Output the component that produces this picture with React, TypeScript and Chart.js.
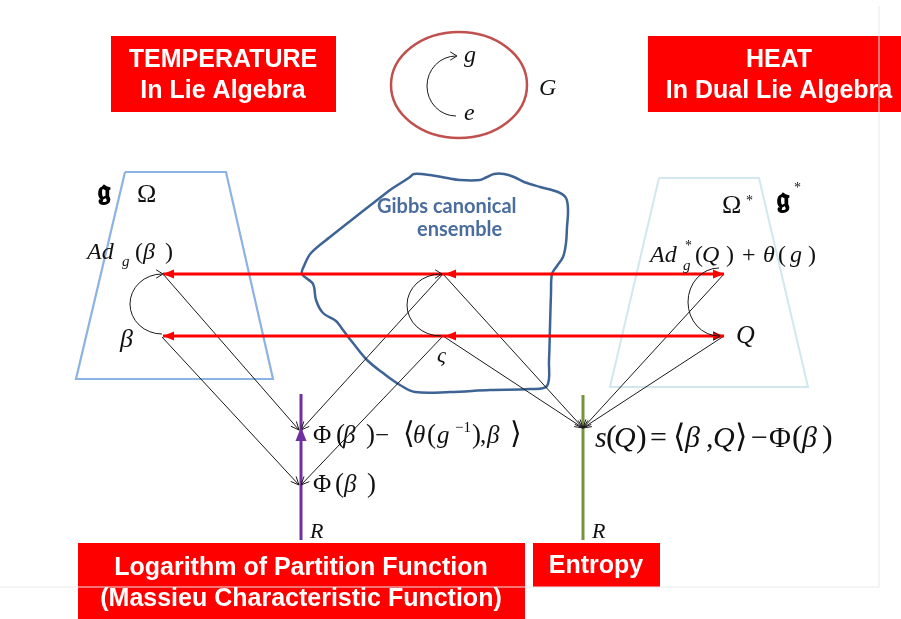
import { useEffect, useRef } from "react";
import { Chart, registerables } from "chart.js";

Chart.register(...registerables);

type Pt = [number, number];

// ---- diagram geometry (data units == pixels of the 901x619 page) ----
const lieAlgebraFrame: Pt[] = [[125, 172], [226, 172], [273, 379], [76, 379], [125, 172]];
const dualAlgebraFrame: Pt[] = [[659, 178], [759, 178], [808, 387], [610, 387], [659, 178]];
const gibbsEnsembleOutline: Pt[] = [
  [390, 190], [410, 177], [414, 174], [430, 175], [447, 178], [460, 180], [480, 180],
  [487, 177], [494, 174], [504, 174], [514, 177], [524, 182], [540, 187], [558, 192],
  [566, 198], [568, 210], [567, 227], [566, 243], [563, 257], [557, 266], [552, 274],
  [551, 293], [550, 327], [549, 360], [547, 386], [530, 389], [490, 390], [450, 392],
  [415, 392], [400, 385], [383, 373], [367, 360], [353, 343], [343, 330], [336, 321],
  [323, 313], [316, 300], [313, 284], [302, 274], [304, 266], [311, 253], [330, 237],
  [363, 211], [390, 190],
];
const pageBorder: Pt[] = [[0, 587], [879, 587], [879, 6]];
const redArrowRows: number[] = [274, 336];
const redArrowSpan: Pt = [163, 724];
const redHeadsLeft: number[] = [163, 445];
const redHeadsRight: number[] = [724];
const mapArrows: [Pt, Pt][] = [
  [[163, 274], [299, 430]],
  [[162, 337], [299, 485]],
  [[443, 274], [301, 430]],
  [[443, 336], [301, 485]],
  [[443, 274], [583, 428]],
  [[443, 336], [583, 428]],
  [[724, 274], [583, 428]],
  [[724, 336], [583, 428]],
];
const partitionAxis: Pt[] = [[301, 394], [301, 540]];
const entropyAxis: Pt[] = [[583, 395], [583, 540]];
const partitionAxisHead: Pt = [301, 427];
const groupEllipse = { cx: 459, cy: 85, rx: 68, ry: 53 };
const orbitCurls = [
  { cx: 162, cy: 304, rx: 32, ry: 30, head: "top" },
  { cx: 441, cy: 305, rx: 34, ry: 31, head: "top" },
  { cx: 719, cy: 302, rx: 31, ry: 34, head: "bottom" },
  { cx: 456, cy: 86, rx: 29, ry: 30, head: "top" },
];

// ---- red caption boxes ----
const boxRects: [number, number, number, number][] = [
  [111, 36, 336, 112],
  [648, 36, 906, 112],
  [78, 543, 525, 622],
  [533, 543, 660, 587],
];
const boxTitles: string[][] = [
  ["TEMPERATURE", "In Lie Algebra"],
  ["HEAT", "In Dual Lie Algebra"],
  ["Logarithm of Partition Function", "(Massieu Characteristic Function)"],
  ["Entropy"],
];
const boxTitleCenters: number[] = [223, 779, 301, 596];
const boxTitleBaselines: number[][] = [[67, 98], [67, 98], [575, 606], [573]];

const ensembleLines: string[] = ["Gibbs canonical", "ensemble"];
const ensembleAnchors: Pt[] = [[377, 213], [417, 236]];

// ---- math glyph placements: [text, x, baseline, size, italic, dy] ----
type G = [string, number, number, number, boolean, number?];
const mathGlyphs: G[] = [
  // group
  ["g", 464, 62, 24, true], ["e", 464, 120, 24, true], ["G", 539, 95, 24, true],
  // frames
  ["Ω", 137, 202, 26, false],
  ["Ω", 722, 213, 26, false], ["*", 746, 205, 14, false],
  ["*", 794, 192, 14, false],
  // Ad_g(β)
  ["Ad", 87, 259, 24, true], ["g", 122, 259, 15, true, 7], ["(", 135, 259, 24, false], ["β", 143, 259, 24, true], [")", 165, 259, 24, false],
  ["β", 120, 347, 26, true],
  // Ad*_g(Q)+θ(g)
  ["Ad", 650, 262, 24, true], ["*", 685, 262, 14, false, -12], ["g", 683, 262, 15, true, 8],
  ["(", 695, 262, 24, false], ["Q", 702, 262, 24, true], [")", 726, 262, 24, false], ["+", 742, 262, 24, false],
  ["θ", 763, 262, 24, true], ["(", 778, 262, 24, false], ["g", 790, 262, 24, true], [")", 808, 262, 24, false],
  ["Q", 736, 343, 26, true],
  ["ς", 437, 362, 22, true],
  // Φ(β) − ⟨θ(g⁻¹), β⟩
  ["Φ", 313, 443, 25, false], ["(", 336, 443, 27, false], ["β", 343, 443, 25, true], [")", 366, 443, 27, false],
  ["−", 375, 443, 25, false], ["⟨", 403, 443, 30, false], ["θ", 413, 443, 25, true], ["(", 427, 443, 27, false],
  ["g", 437, 443, 25, true], ["−1", 455, 443, 15, false, -11], [")", 472, 443, 27, false], [",", 480, 443, 25, false],
  ["β", 487, 443, 25, true], ["⟩", 510, 443, 30, false],
  // Φ(β)
  ["Φ", 313, 492, 25, false], ["(", 335, 492, 27, false], ["β", 344, 492, 25, true], [")", 367, 492, 27, false],
  // s(Q) = ⟨β, Q⟩ − Φ(β)
  ["s", 595, 447, 30, true], ["(", 606, 447, 32, false], ["Q", 614, 447, 30, true], [")", 636, 447, 32, false],
  ["=", 650, 447, 30, false], ["⟨", 673, 447, 32, false], ["β", 685, 447, 30, true], [",", 706, 447, 30, false],
  ["Q", 713, 447, 30, true], ["⟩", 735, 447, 32, false], ["−", 751, 447, 30, false], ["Φ", 769, 447, 30, false],
  ["(", 792, 447, 32, false], ["β", 802, 447, 30, true], [")", 822, 447, 32, false],
  // R axes
  ["R", 310, 538, 22, true], ["R", 592, 538, 22, true],
];
// Lie algebra symbols (fraktur g)
const frakturGlyphs: G[] = [
  ["\u{1D524}", 98, 200, 28, false],
  ["\u{1D524}", 777, 208, 28, false],
];

const serif = '"Liberation Serif", "DejaVu Serif", serif';

function chevron(ctx: CanvasRenderingContext2D, x: number, y: number, ang: number, len = 9, spread = 0.42) {
  ctx.beginPath();
  ctx.moveTo(x - len * Math.cos(ang - spread), y - len * Math.sin(ang - spread));
  ctx.lineTo(x, y);
  ctx.lineTo(x - len * Math.cos(ang + spread), y - len * Math.sin(ang + spread));
  ctx.stroke();
}

function triangle(ctx: CanvasRenderingContext2D, x: number, y: number, ang: number, len = 11, half = 4.5) {
  const bx = x - len * Math.cos(ang);
  const by = y - len * Math.sin(ang);
  const nx = -Math.sin(ang) * half;
  const ny = Math.cos(ang) * half;
  ctx.beginPath();
  ctx.moveTo(x, y);
  ctx.lineTo(bx + nx, by + ny);
  ctx.lineTo(bx - nx, by - ny);
  ctx.closePath();
  ctx.fill();
}

const diagramPlugin = {
  id: "diagram",
  beforeDatasetsDraw(chart: any) {
    const ctx: CanvasRenderingContext2D = chart.ctx;
    const X = (v: number) => chart.scales.x.getPixelForValue(v);
    const Y = (v: number) => chart.scales.y.getPixelForValue(v);
    ctx.save();
    // red caption boxes
    ctx.fillStyle = "#ff0000";
    boxRects.forEach(([x0, y0, x1, y1]) => ctx.fillRect(X(x0), Y(y0), X(x1) - X(x0), Y(y1) - Y(y0)));
    ctx.fillStyle = "#ffffff";
    ctx.font = 'bold 25px "Liberation Sans", Arial, sans-serif';
    ctx.textAlign = "center";
    ctx.textBaseline = "alphabetic";
    boxTitles.forEach((lines, i) => {
      lines.forEach((t, j) => ctx.fillText(t, X(boxTitleCenters[i]), Y(boxTitleBaselines[i][j])));
    });
    // group ellipse
    ctx.strokeStyle = "#c0504d";
    ctx.lineWidth = 2.5;
    ctx.beginPath();
    ctx.ellipse(X(groupEllipse.cx), Y(groupEllipse.cy), X(groupEllipse.rx) - X(0), Y(groupEllipse.ry) - Y(0), 0, 0, Math.PI * 2);
    ctx.stroke();
    ctx.restore();
  },
  afterDatasetsDraw(chart: any) {
    const ctx: CanvasRenderingContext2D = chart.ctx;
    const X = (v: number) => chart.scales.x.getPixelForValue(v);
    const Y = (v: number) => chart.scales.y.getPixelForValue(v);
    ctx.save();
    // red arrowheads
    ctx.fillStyle = "#ff0000";
    redArrowRows.forEach((row) => {
      redHeadsLeft.forEach((x) => triangle(ctx, X(x), Y(row), Math.PI));
      redHeadsRight.forEach((x) => triangle(ctx, X(x), Y(row), 0));
    });
    // black map arrowheads
    ctx.strokeStyle = "#1a1a1a";
    ctx.lineWidth = 1;
    mapArrows.forEach(([a, b]) => {
      const ang = Math.atan2(Y(b[1]) - Y(a[1]), X(b[0]) - X(a[0]));
      chevron(ctx, X(b[0]), Y(b[1]), ang);
    });
    // orbit curls
    orbitCurls.forEach((c) => {
      const cx = X(c.cx), cy = Y(c.cy), rx = X(c.rx) - X(0), ry = Y(c.ry) - Y(0);
      ctx.beginPath();
      ctx.ellipse(cx, cy, rx, ry, 0, -Math.PI / 2, Math.PI / 2, true);
      ctx.stroke();
      const hy = c.head === "top" ? cy - ry : cy + ry;
      chevron(ctx, cx + 1, hy, 0, 8, 0.55);
    });
    // purple arrowhead
    ctx.fillStyle = "#7030a0";
    triangle(ctx, X(partitionAxisHead[0]), Y(partitionAxisHead[1]), -Math.PI / 2, 14, 5.5);
    // math text
    ctx.fillStyle = "#111111";
    ctx.textAlign = "left";
    ctx.textBaseline = "alphabetic";
    mathGlyphs.forEach(([t, x, y, s, it, dy]) => {
      ctx.font = `${it ? "italic " : ""}${s}px ${serif}`;
      ctx.fillText(t, X(x), Y(y + (dy || 0)));
    });
    ctx.fillStyle = "#000000";
    ctx.strokeStyle = "#000000";
    ctx.lineWidth = 0.8;
    frakturGlyphs.forEach(([t, x, y, s]) => {
      ctx.font = `bold ${s}px ${serif}`;
      ctx.fillText(t, X(x), Y(y));
      ctx.strokeText(t, X(x), Y(y));
    });
    // ensemble caption
    ctx.fillStyle = "#4a6d9e";
    ctx.font = 'bold 20px Lato, "Open Sans", sans-serif';
    ensembleLines.forEach((t, i) => ctx.fillText(t, X(ensembleAnchors[i][0]), Y(ensembleAnchors[i][1])));
    ctx.restore();
  },
};

const toXY = (pts: Pt[]) => pts.map(([x, y]) => ({ x, y }));

export default function App() {
  const ref = useRef<HTMLCanvasElement | null>(null);
  useEffect(() => {
    if (!ref.current) return;
    const line = (pts: Pt[], color: string, width: number, extra: any = {}) => ({
      data: toXY(pts),
      showLine: true,
      borderColor: color,
      backgroundColor: color,
      borderWidth: width,
      pointRadius: 0,
      pointHoverRadius: 0,
      fill: false,
      tension: 0,
      ...extra,
    });
    const datasets: any[] = [];
    redArrowRows.forEach((row) =>
      datasets.push(line([[redArrowSpan[0], row], [redArrowSpan[1], row]], "#ff0000", 3))
    );
    mapArrows.forEach(([a, b]) => datasets.push(line([a, b], "#1a1a1a", 1)));
    datasets.push(line(partitionAxis, "#7030a0", 3));
    datasets.push(line(entropyAxis, "#77933c", 3));
    datasets.push(line(gibbsEnsembleOutline, "#3d6495", 2.5, { tension: 0.35 }));
    datasets.push(line(lieAlgebraFrame, "#8db3e2", 2.2));
    datasets.push(line(dualAlgebraFrame, "#d3e7ef", 2));
    datasets.push(line(pageBorder, "#e8e8e8", 1));

    const chart = new Chart(ref.current, {
      type: "scatter",
      data: { datasets },
      options: {
        animation: false,
        responsive: false,
        devicePixelRatio: 1,
        events: [],
        layout: { padding: 0 },
        plugins: { legend: { display: false }, tooltip: { enabled: false } },
        scales: {
          x: { type: "linear", min: 0, max: 901, display: false },
          y: { type: "linear", min: 0, max: 619, reverse: true, display: false },
        },
      },
      plugins: [diagramPlugin],
    });
    return () => chart.destroy();
  }, []);
  return (
    <div style={{ position: "absolute", left: 0, top: 0, width: 901, height: 619, background: "#fff" }}>
      <canvas ref={ref} width={901} height={619} style={{ display: "block" }} />
    </div>
  );
}
